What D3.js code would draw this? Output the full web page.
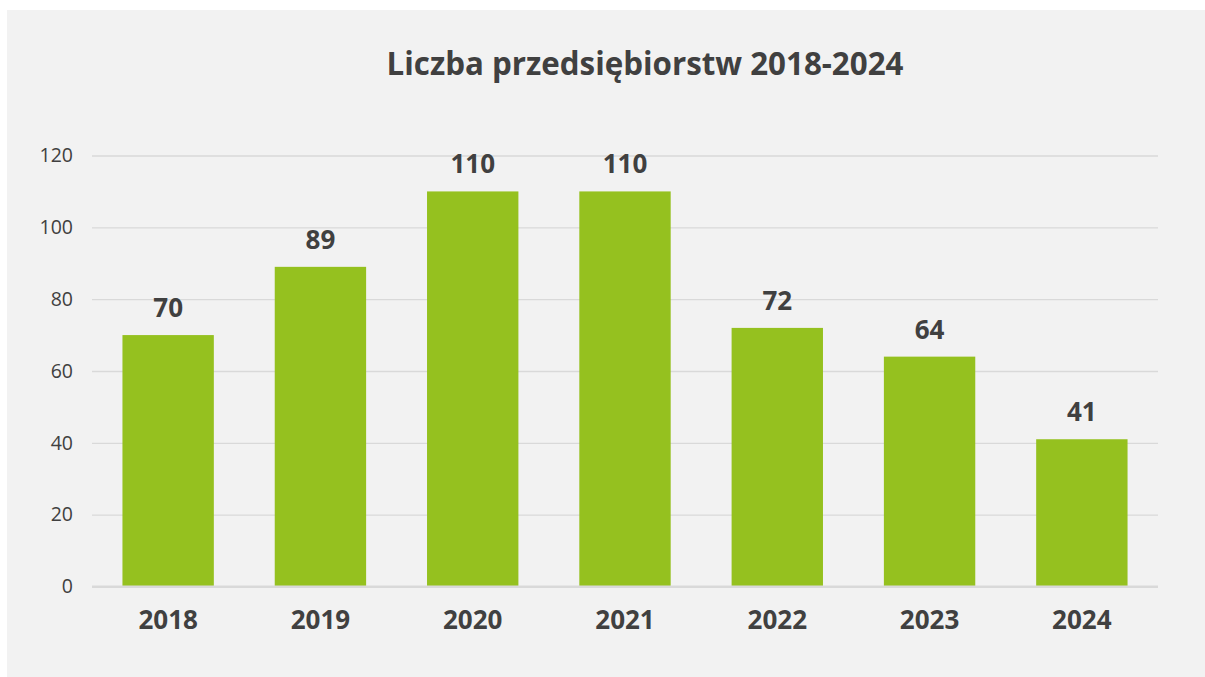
<!DOCTYPE html>
<html><head><meta charset="utf-8">
<script src="https://cdn.jsdelivr.net/npm/d3@7"></script>
<style>html,body{margin:0;padding:0;background:#fff;}svg{display:block;}</style>
</head><body>
<svg id="c" width="1205" height="677"></svg>
<script>
const categories = ["2018","2019","2020","2021","2022","2023","2024"];
const values = [70, 89, 110, 110, 72, 64, 41];
const yTicks = [0, 20, 40, 60, 80, 100, 120];
const title = "Liczba przedsiębiorstw 2018-2024";

(function () {
const svg = d3.select("#c");
const W = 1205, H = 677;
const font = "'Open Sans', 'Noto Sans', sans-serif";
const textColor = "#404040";

svg.append("rect").attr("x", 7).attr("y", 10).attr("width", W - 7).attr("height", H - 10).attr("fill", "#f2f2f2");

const pLeft = 92, pRight = 1158, pTop = 155.5, pBottom = 586.5;
const x = d3.scaleBand().domain(categories).range([pLeft, pRight]).paddingInner(0.4).paddingOuter(0.2);
const y = d3.scaleLinear().domain([0, 120]).range([pBottom, pTop]);

const yAxis = d3.axisLeft(y).tickValues(yTicks).tickSize(-(pRight - pLeft)).tickPadding(19);
const gy = svg.append("g").attr("transform", `translate(${pLeft},0)`).call(yAxis);
gy.select(".domain").remove();
gy.selectAll(".tick line").attr("stroke", "#d9d9d9").attr("stroke-width", d => d === 0 ? 2 : 1.3);
gy.selectAll(".tick text").attr("fill", textColor).attr("font-family", font).attr("font-size", 19.5).attr("x", -19);

svg.append("g").selectAll("rect").data(values).join("rect")
  .attr("x", (d, i) => x(categories[i]))
  .attr("width", x.bandwidth())
  .attr("y", d => y(d))
  .attr("height", d => pBottom - y(d))
  .attr("fill", "#95c11f");

svg.append("line").attr("x1", pLeft).attr("x2", pRight).attr("y1", y(0)).attr("y2", y(0)).attr("stroke", "#d9d9d9").attr("stroke-width", 2);

svg.append("g").selectAll("text").data(values).join("text")
  .attr("x", (d, i) => x(categories[i]) + x.bandwidth() / 2)
  .attr("y", d => y(d) - 18)
  .attr("text-anchor", "middle")
  .attr("font-family", font).attr("font-weight", "bold").attr("font-size", 26)
  .attr("fill", textColor)
  .text(d => d);

const xAxis = d3.axisBottom(x).tickSize(0).tickPadding(0);
const gx = svg.append("g").attr("transform", `translate(0,${pBottom})`).call(xAxis);
gx.select(".domain").remove();
gx.selectAll(".tick text").attr("fill", textColor).attr("font-family", font).attr("font-weight", "bold").attr("font-size", 26)
  .attr("dy", null).attr("y", 42.5);

svg.append("text").attr("x", 645).attr("y", 75).attr("text-anchor", "middle")
  .attr("font-family", font).attr("font-weight", "bold").attr("font-size", 31.3)
  .attr("fill", textColor).text(title);
})();
</script>
</body></html>
